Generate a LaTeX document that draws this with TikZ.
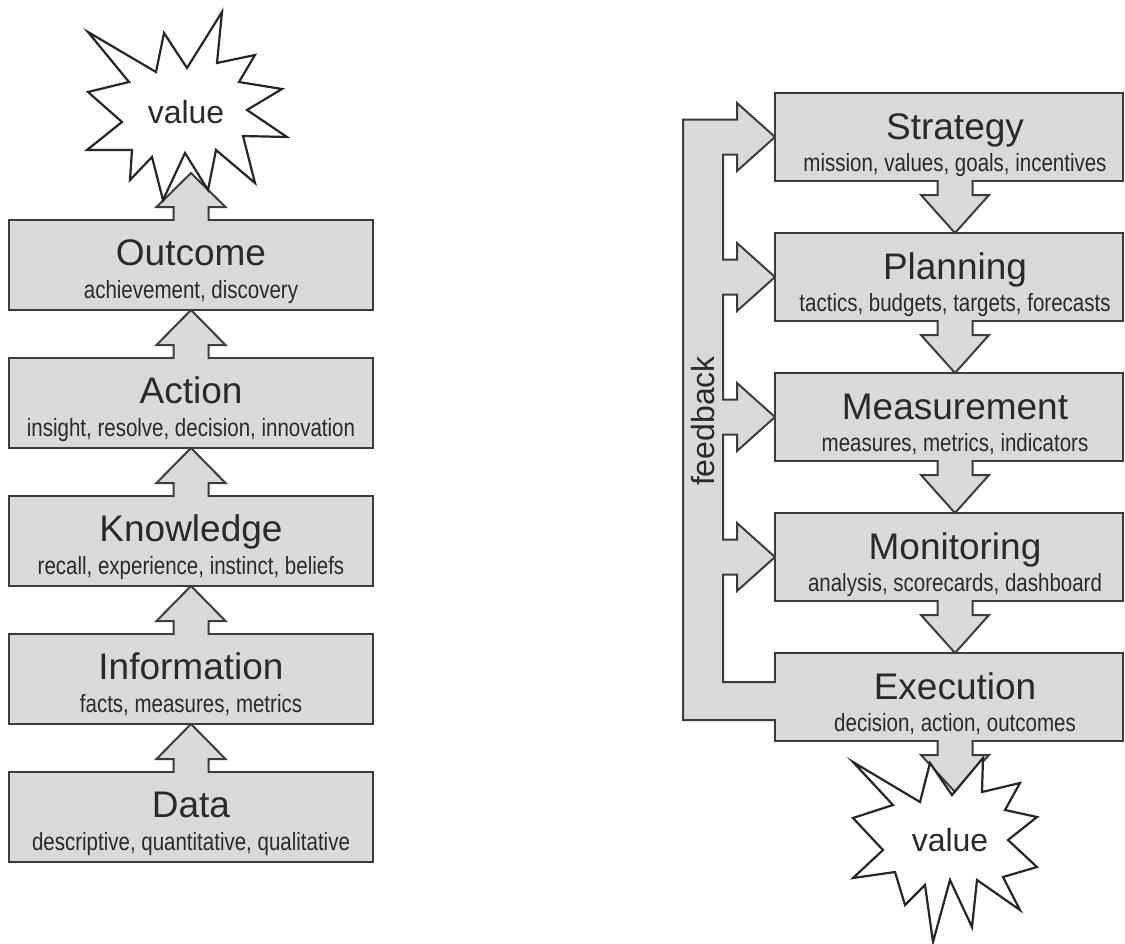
\documentclass[tikz,border=0pt]{standalone}
\usepackage{fontspec}
\setmainfont{Liberation Sans}
\newfontfamily\narrowfont{Liberation Sans}[FakeStretch=0.82]
\usetikzlibrary{calc}

\definecolor{boxgray}{RGB}{218,218,220}
\definecolor{edgegray}{RGB}{60,60,60}
\definecolor{inkgray}{RGB}{42,42,42}

\tikzset{
  stage/.style={rectangle, draw=edgegray, fill=boxgray, line width=2pt,
    inner sep=0pt, outer sep=0pt},
  leftstage/.style={stage, minimum width=364pt, minimum height=90pt},
  rightstage/.style={stage, minimum width=348pt, minimum height=88pt},
  ttl/.style={anchor=base, inner sep=0pt, text=inkgray,
    font=\fontsize{37}{40}\selectfont},
  sub/.style={anchor=base, inner sep=0pt, text=inkgray,
    font=\narrowfont\fontsize{25}{28}\selectfont},
  arrowline/.style={draw=edgegray, fill=boxgray, line width=2pt, line join=miter},
  burst/.style={draw=black!85, fill=white, line width=2.2pt, line join=miter},
  valtext/.style={inner sep=0pt, text=inkgray, font=\fontsize{32}{34}\selectfont},
  fbtext/.style={inner sep=0pt, text=inkgray, rotate=90, font=\fontsize{32}{34}\selectfont}
}

% hollow block arrow leaving the top of box #1 and pointing at #2
\newcommand{\stageup}[2]{%
  \draw[arrowline] ($(#1.north)+(-17.5,1)$) -- ($(#1.north)+(-17.5,-13)$)
    -- ($(#1.north)+(-34.5,-13)$) -- (#2) -- ($(#1.north)+(34.5,-13)$)
    -- ($(#1.north)+(17.5,-13)$) -- ($(#1.north)+(17.5,1)$);}
% hollow block arrow leaving the bottom of box #1 and pointing at #2
\newcommand{\stagedown}[2]{%
  \draw[arrowline] ($(#1.south)+(-11.5,-1)$) -- ($(#1.south)+(-11.5,14)$)
    -- ($(#1.south)+(-28,14)$) -- (#2) -- ($(#1.south)+(40,14)$)
    -- ($(#1.south)+(23.5,14)$) -- ($(#1.south)+(23.5,-1)$);}

\begin{document}
\begin{tikzpicture}[x=1pt, y=-1pt]
\useasboundingbox (0,0) rectangle (1125,943);

% ---------- left column: data to value ----------
\node[leftstage] (outc) at (191,265) {};
\node[leftstage] (act)  at (191,403) {};
\node[leftstage] (know) at (191,541) {};
\node[leftstage] (info) at (191,679) {};
\node[leftstage] (data) at (191,817) {};
\coordinate (valtipL) at (191,173);

\stageup{data}{info.south}
\stageup{info}{know.south}
\stageup{know}{act.south}
\stageup{act}{outc.south}
\stageup{outc}{valtipL}

% ---------- right column: strategy to execution ----------
\node[rightstage] (strat) at (949,137) {};
\node[rightstage] (plan)  at (949,277) {};
\node[rightstage] (meas)  at (949,417) {};
\node[rightstage] (moni)  at (949,557) {};
\node[rightstage] (exec)  at (949,697) {};
\coordinate (valtipR) at (955,792);

\stagedown{strat}{$(plan.north)+(6,0)$}
\stagedown{plan}{$(meas.north)+(6,0)$}
\stagedown{meas}{$(moni.north)+(6,0)$}
\stagedown{moni}{$(exec.north)+(6,0)$}
\stagedown{exec}{valtipR}

% feedback channel from execution back to every stage
\draw[arrowline] ($(exec.west)+(1,-15)$) -- ($(exec.west)+(-52,-15)$)
  -- ($(moni.west)+(-52,17.5)$) -- ($(moni.west)+(-38,17.5)$) -- ($(moni.west)+(-38,34)$)
  -- (moni.west) -- ($(moni.west)+(-38,-34)$) -- ($(moni.west)+(-38,-17.5)$) -- ($(moni.west)+(-52,-17.5)$)
  -- ($(meas.west)+(-52,17.5)$) -- ($(meas.west)+(-38,17.5)$) -- ($(meas.west)+(-38,34)$)
  -- (meas.west) -- ($(meas.west)+(-38,-34)$) -- ($(meas.west)+(-38,-17.5)$) -- ($(meas.west)+(-52,-17.5)$)
  -- ($(plan.west)+(-52,17.5)$) -- ($(plan.west)+(-38,17.5)$) -- ($(plan.west)+(-38,34)$)
  -- (plan.west) -- ($(plan.west)+(-38,-34)$) -- ($(plan.west)+(-38,-17.5)$) -- ($(plan.west)+(-52,-17.5)$)
  -- ($(strat.west)+(-52,17.5)$) -- ($(strat.west)+(-38,17.5)$) -- ($(strat.west)+(-38,34)$)
  -- (strat.west) -- ($(strat.west)+(-38,-34)$) -- ($(strat.west)+(-38,-17.5)$)
  -- ($(strat.west)+(-92,-17.5)$) -- ($(exec.west)+(-92,23)$) -- ($(exec.west)+(1,23)$);
\node[fbtext] (fb) at (703,421) {feedback};

% ---------- value bursts ----------
\draw[burst] (88,32) -- (156,72) -- (164,33) -- (187,68) -- (222,12) -- (217,63)
  -- (255,55) -- (239,82) -- (282,89) -- (247,110) -- (287,137) -- (243,136)
  -- (255,183) -- (216,150) -- (208,190) -- (185,153) -- (163,200) -- (152,157)
  -- (130,180) -- (132,150) -- (87,150) -- (122,122) -- (88,92) -- (129,82) -- cycle;
\node[valtext] (valL) at (186,112) {value};

\draw[burst] (853,762) -- (920,802) -- (930,763) -- (952,795) -- (983,758) -- (982,792)
  -- (1020,783) -- (1005,810) -- (1037,817) -- (1008,840) -- (1037,867) -- (1003,877)
  -- (1020,910) -- (977,880) -- (972,927) -- (950,880) -- (933,942) -- (925,885)
  -- (905,905) -- (895,872) -- (853,878) -- (883,850) -- (853,818) -- (893,805) -- cycle;
\node[valtext] (valR) at (950,840) {value};

% ---------- stage labels ----------
\node[ttl] (outc-t) at ($(outc.north)+(0,45)$) {Outcome};
\node[sub] (outc-s) at ($(outc.north)+(0,78)$) {achievement, discovery};
\node[ttl] (act-t)  at ($(act.north)+(0,45)$) {Action};
\node[sub] (act-s)  at ($(act.north)+(0,78)$) {insight, resolve, decision, innovation};
\node[ttl] (know-t) at ($(know.north)+(0,45)$) {Knowledge};
\node[sub] (know-s) at ($(know.north)+(0,78)$) {recall, experience, instinct, beliefs};
\node[ttl] (info-t) at ($(info.north)+(0,45)$) {Information};
\node[sub] (info-s) at ($(info.north)+(0,78)$) {facts, measures, metrics};
\node[ttl] (data-t) at ($(data.north)+(0,45)$) {Data};
\node[sub] (data-s) at ($(data.north)+(0,78)$) {descriptive, quantitative, qualitative};

\node[ttl] (strat-t) at ($(strat.north)+(6,46)$) {Strategy};
\node[sub] (strat-s) at ($(strat.north)+(6,78)$) {mission, values, goals, incentives};
\node[ttl] (plan-t)  at ($(plan.north)+(6,46)$) {Planning};
\node[sub] (plan-s)  at ($(plan.north)+(6,78)$) {tactics, budgets, targets, forecasts};
\node[ttl] (meas-t)  at ($(meas.north)+(6,46)$) {Measurement};
\node[sub] (meas-s)  at ($(meas.north)+(6,78)$) {measures, metrics, indicators};
\node[ttl] (moni-t)  at ($(moni.north)+(6,46)$) {Monitoring};
\node[sub] (moni-s)  at ($(moni.north)+(6,78)$) {analysis, scorecards, dashboard};
\node[ttl] (exec-t)  at ($(exec.north)+(6,46)$) {Execution};
\node[sub] (exec-s)  at ($(exec.north)+(6,78)$) {decision, action, outcomes};
\end{tikzpicture}
\end{document}
